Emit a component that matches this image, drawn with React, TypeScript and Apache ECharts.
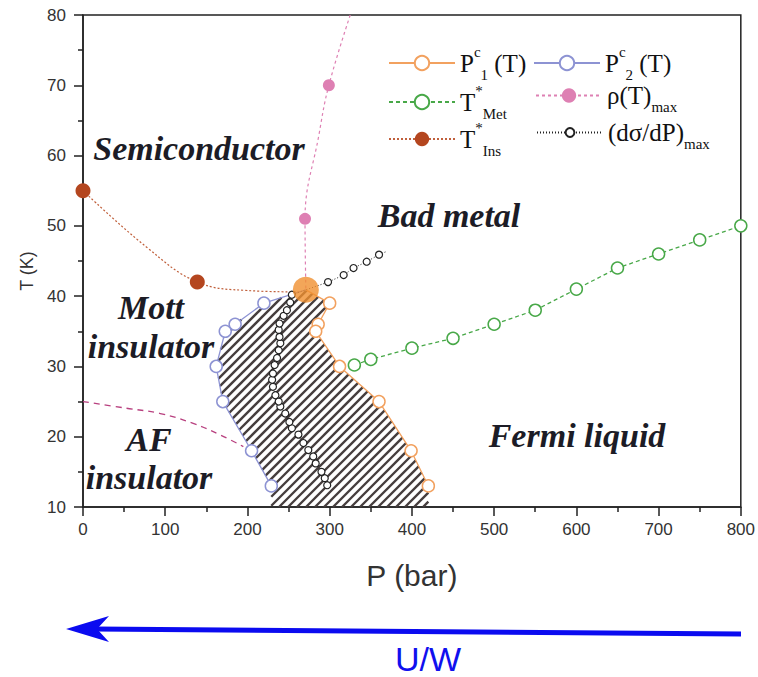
import React, { useEffect, useRef } from 'react';
import * as echarts from 'echarts';

// ---------- data (P in bar, T in K) ----------
const criticalPoint: [number, number] = [271, 40.9];
const p1cPoints: [number, number][] = [[300, 39], [286, 36], [283, 35], [312, 30], [360, 25], [399, 18], [420, 13]];
const p2cPoints: [number, number][] = [[220, 39], [185, 36], [173, 35], [162, 30], [170, 25], [205, 18], [229, 13]];
const tMetPoints: [number, number][] = [[330, 30.2], [350, 31], [400, 32.6], [450, 34], [500, 36], [550, 38], [600, 41], [650, 44], [700, 46], [750, 48], [800, 50]];
const rhoMaxPoints: [number, number][] = [[299, 70], [270, 51]];
const rhoCurve: [number, number][] = [[325, 80], [299, 70], [287, 63], [270, 51], [271, 41]];
const tInsPoints: [number, number][] = [[0, 55], [139, 42]];
const tInsCurve: [number, number][] = [[0, 55], [77, 47], [139, 42], [200, 40.8], [262, 40.6]];
const dsdpPoints: [number, number][] = [
  [297, 13.1], [294, 14.1], [290, 15.0], [283, 16.2], [280, 17.2], [274, 18.1], [268, 19.1], [262, 20.3],
  [254, 21.2], [251, 22.1], [246, 23.3], [240, 24.3], [238, 25.0], [234, 25.9], [231, 27.1], [230, 28.1],
  [231, 29.0], [233, 30.2], [236, 31.2], [238, 32.3], [240, 33.3], [239, 34.2], [238, 35.2], [239, 36.1],
  [244, 37.2], [248, 38.0], [252, 39.1], [254, 40.2],
  [298, 42.0], [317, 43.0], [329, 44.0], [345, 44.9], [360, 45.9]
];
const dsdpLineEnd: [number, number] = [368, 46.3];
const afBoundary: [number, number][] = [[0, 25], [53, 24.05], [94, 23.3], [134, 21.9], [167, 20.25], [195, 18.6]];
const hatchBottomT = 10;

const xTicks = { min: 0, max: 800, interval: 100 };
const yTicks = { min: 10, max: 80, interval: 10 };

const names = {
  p1: 'P1c (T)', p2: 'P2c (T)', met: 'T*Met', rho: 'ρ(T)max', ins: 'T*Ins', ds: '(dσ/dP)max'
};
const legendLabels: Record<string, string> = {
  [names.p1]: '{m|P}{sup|c}{sub|1}{m| (T)}',
  [names.p2]: '{m|P}{sup|c}{sub|2}{m| (T)}',
  [names.met]: '{m|T}{sup|*}{sub|Met}',
  [names.rho]: '{m|ρ(T)}{sub|max}',
  [names.ins]: '{m|T}{sup|*}{sub|Ins}',
  [names.ds]: '{m|(dσ/dP)}{sub|max}'
};

const C = {
  orange: '#f2a15f', blue: '#8d93d3', green: '#48a848', pink: '#de80b3', brown: '#b4461f',
  crit: '#f0902f', af: '#b8407f', black: '#222', hatch: '#453d3d'
};

const SERIF = '"Liberation Serif", "Times New Roman", serif';
const SANS = '"Liberation Sans", Arial, Helvetica, sans-serif';

function markerData(curve: [number, number][], markers: [number, number][]) {
  return curve.map((p) => {
    const isMarker = markers.some((m) => m[0] === p[0] && m[1] === p[1]);
    return isMarker ? { value: p } : { value: p, symbol: 'none' };
  });
}

const HATCH_DIR = 1; // 1 => "/" stripes, -1 => "\" stripes

function hatchRender(params: any, api: any) {
  if (params.dataIndex !== 0) return null;
  const poly: [number, number][] = [
    [p2cPoints[p2cPoints.length - 1][0], hatchBottomT],
    ...p2cPoints.slice().reverse(),
    criticalPoint,
    ...p1cPoints,
    [p1cPoints[p1cPoints.length - 1][0], hatchBottomT]
  ];
  const pts = poly.map((p) => api.coord(p));
  const f = (q: number[]) => q[0] * HATCH_DIR + q[1];
  const vals = pts.map(f);
  const lo = Math.min(...vals), hi = Math.max(...vals);
  const step = 9;
  const children: any[] = [];
  for (let c = lo + step / 2; c < hi; c += step) {
    const xs: number[] = [];
    for (let i = 0; i < pts.length; i++) {
      const a = pts[i], b = pts[(i + 1) % pts.length];
      const fa = f(a) - c, fb = f(b) - c;
      if ((fa > 0) !== (fb > 0)) {
        const t = fa / (fa - fb);
        xs.push(a[0] + t * (b[0] - a[0]));
      }
    }
    xs.sort((u, v) => u - v);
    for (let k = 0; k + 1 < xs.length; k += 2) {
      const x1 = xs[k], x2 = xs[k + 1];
      children.push({
        type: 'line',
        shape: { x1, y1: c - HATCH_DIR * x1, x2, y2: c - HATCH_DIR * x2 },
        style: { stroke: C.hatch, lineWidth: 2.4 }
      });
    }
  }
  return { type: 'group', children };
}

function makeLegend(name: string, left: number, centerY: number, itemHeight: number) {
  return {
    data: [name],
    left,
    top: centerY - 19,
    orient: 'vertical',
    padding: 0,
    itemWidth: 66,
    itemHeight,
    selectedMode: false,
    formatter: (n: string) => legendLabels[n] || n,
    textStyle: {
      color: '#111',
      rich: {
        m: { fontFamily: SERIF, fontSize: 25, lineHeight: 38, color: '#111' },
        sup: { fontFamily: SERIF, fontSize: 15, lineHeight: 15, verticalAlign: 'top', color: '#111' },
        sub: { fontFamily: SERIF, fontSize: 15, lineHeight: 15, verticalAlign: 'bottom', color: '#111' }
      }
    }
  };
}

function regionLabel(text: string, x: number, y: number, lineHeight = 38) {
  return {
    type: 'text', x, y, silent: true, z: 50,
    style: {
      text, fill: '#1c1c26', font: `italic bold 34px ${SERIF}`, lineHeight,
      align: 'center', verticalAlign: 'middle'
    }
  };
}

export default function App() {
  const ref = useRef<HTMLDivElement>(null);
  useEffect(() => {
    document.body.style.margin = '0';
    if (!ref.current) return;
    const chart = echarts.init(ref.current, undefined, { renderer: 'svg' });
    const axisCommon = {
      type: 'value' as const,
      axisLine: { onZero: false, lineStyle: { color: C.black, width: 1.5 } },
      axisTick: { length: 9, lineStyle: { color: C.black, width: 1.5 } },
      minorTick: { show: true, splitNumber: 2, length: 5, lineStyle: { color: C.black, width: 1.5 } },
      splitLine: { show: false },
      minorSplitLine: { show: false }
    };
    const option: any = {
      animation: false,
      backgroundColor: '#fff',
      grid: { left: 83, right: 17, top: 15, bottom: 170, show: true, borderColor: C.black, borderWidth: 1.5, backgroundColor: 'transparent' },
      xAxis: {
        ...axisCommon, ...xTicks,
        axisLabel: { margin: 14, fontSize: 17, color: '#333', fontFamily: SANS },
        name: 'P (bar)', nameLocation: 'middle', nameGap: 53,
        nameTextStyle: { fontSize: 30, color: '#333', fontFamily: SANS }
      },
      yAxis: {
        ...axisCommon, ...yTicks,
        axisLabel: { margin: 17, fontSize: 17, color: '#333', fontFamily: SANS },
        name: 'T (K)', nameLocation: 'middle', nameGap: 46,
        nameTextStyle: { fontSize: 18, color: '#333', fontFamily: SANS, padding: [0, 20, 0, 0] }
      },
      legend: [
        makeLegend(names.p1, 388, 63, 18),
        makeLegend(names.met, 388, 102, 18),
        makeLegend(names.ins, 388, 139, 18),
        makeLegend(names.p2, 533, 63, 18),
        makeLegend(names.rho, 535, 102, 18),
        makeLegend(names.ds, 536, 139, 11)
      ],
      graphic: [
        regionLabel('Semiconductor', 199, 148),
        regionLabel('Bad metal', 449, 215),
        regionLabel('Mott\ninsulator', 151, 327, 39),
        regionLabel('AF\ninsulator', 149, 458, 38),
        regionLabel('Fermi liquid', 577, 435),
        { type: 'line', silent: true, shape: { x1: 741, y1: 634, x2: 95, y2: 629 }, style: { stroke: '#0b0bf0', lineWidth: 5 } },
        { type: 'polygon', silent: true, shape: { points: [[66, 629], [109, 616], [97, 629], [109, 642]] }, style: { fill: '#0b0bf0' } },
        { type: 'text', x: 428, y: 659, silent: true, style: { text: 'U/W', fill: '#1010ee', font: `34px ${SANS}`, align: 'center', verticalAlign: 'middle' } }
      ],
      series: [
        {
          type: 'custom', name: 'hatch', renderItem: hatchRender, silent: true, z: 1,
          data: [criticalPoint]
        },
        {
          type: 'line', name: 'AF boundary', data: afBoundary, smooth: 0.4, symbol: 'none', z: 2, silent: true,
          lineStyle: { color: C.af, width: 1.3, type: [6, 5] }
        },
        {
          type: 'line', name: names.ins, data: markerData(tInsCurve, tInsPoints), smooth: 0.4, z: 3,
          symbol: 'circle', symbolSize: 15,
          itemStyle: { color: C.brown },
          lineStyle: { color: '#c0603c', width: 1.2, type: [2, 2] }
        },
        {
          type: 'line', name: names.rho, data: markerData(rhoCurve, rhoMaxPoints), smooth: 0.4, z: 3,
          symbol: 'circle', symbolSize: 12,
          itemStyle: { color: C.pink },
          lineStyle: { color: C.pink, width: 1.2, type: [3, 3] }
        },
        {
          type: 'line', name: names.p1, z: 4,
          data: [{ value: criticalPoint, symbol: 'none' }, ...p1cPoints.map((p) => ({ value: p }))],
          symbol: 'circle', symbolSize: 12,
          itemStyle: { color: '#fff', borderColor: C.orange, borderWidth: 1.5 },
          lineStyle: { color: C.orange, width: 1.3 }
        },
        {
          type: 'line', name: names.p2, z: 4,
          data: [{ value: criticalPoint, symbol: 'none' }, ...p2cPoints.map((p) => ({ value: p }))],
          symbol: 'circle', symbolSize: 12,
          itemStyle: { color: '#fff', borderColor: C.blue, borderWidth: 1.5 },
          lineStyle: { color: C.blue, width: 1.3 }
        },
        {
          type: 'line', name: names.met, data: tMetPoints, z: 4,
          symbol: 'circle', symbolSize: 12,
          itemStyle: { color: '#fff', borderColor: C.green, borderWidth: 1.5 },
          lineStyle: { color: C.green, width: 1.3, type: [4, 3] }
        },
        {
          type: 'line', name: names.ds, z: 5,
          data: [...dsdpPoints.map((p) => ({ value: p })), { value: dsdpLineEnd, symbol: 'none' }],
          symbol: 'circle', symbolSize: 7,
          itemStyle: { color: '#fff', borderColor: '#222', borderWidth: 1.2 },
          lineStyle: { color: '#222', width: 1, type: [1, 2] }
        },
        {
          type: 'scatter', name: 'critical point', data: [criticalPoint], z: 6,
          symbol: 'circle', symbolSize: 26, itemStyle: { color: C.crit }, silent: true
        }
      ]
    };
    chart.setOption(option);
    return () => chart.dispose();
  }, []);
  return <div ref={ref} style={{ width: 758, height: 677 }} />;
}
